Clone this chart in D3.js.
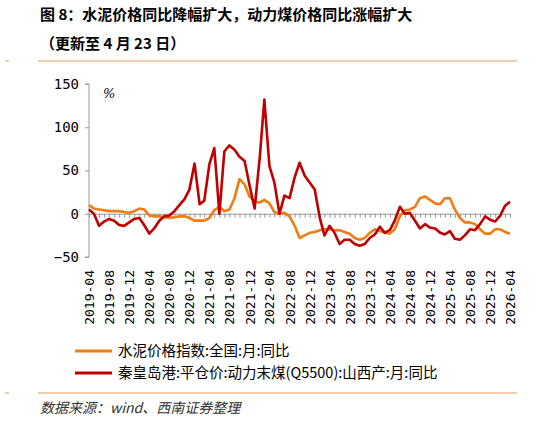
<!DOCTYPE html>
<html><head><meta charset="utf-8">
<script src="https://cdn.jsdelivr.net/npm/d3@7"></script>
<style>body{margin:0;background:#fff}svg{display:block}</style>
</head><body><svg id="c" width="542" height="424"></svg>
<script>
var startMonth = new Date(2019, 3, 1);
var cement = [10,6,5,4,3,3,3,2,1,3,6,5,-2,-3,-3,-4,-5,-4,-3,-3,-5,-8,-8,-8,-5,4,8,3,5,18,40,34,20,14,13,16,12,2,0,1,-3,-14,-28,-25,-22,-21,-19,-18,-18,-19,-19,-21,-23,-28,-30,-28,-22,-18,-20,-22,-23,-18,-3,4,5,8,18,20,16,12,11,18,18,5,-5,-10,-10,-12,-18,-23,-23,-18,-18,-21,-23];
var coal = [5,0,-14,-9,-6,-8,-13,-14,-10,-6,-5,-13,-23,-17,-8,-3,-2,3,10,17,28,58,11,15,57,76,0,72,79,74,66,61,33,6,65,132,55,36,0,21,18,42,59,44,36,28,-5,-25,-14,-22,-35,-30,-30,-35,-37,-35,-28,-24,-15,-22,-19,-8,8,0,1,-8,-17,-12,-16,-17,-22,-24,-20,-29,-30,-25,-18,-19,-12,-3,-7,-9,-2,9,14];
var yTicks = [-50, 0, 50, 100, 150];
var legendNames = ["水泥价格指数:全国:月:同比", "秦皇岛港:平仓价:动力末煤(Q5500):山西产:月:同比"];
var colors = ["#f07c12", "#c00000"];

var months = cement.map((d, i) => d3.timeMonth.offset(startMonth, i));
var svg = d3.select("#c");
var cjk = "'Noto Sans CJK SC', sans-serif";

svg.append("text").attr("x", 40).attr("y", 20).style("font-family", cjk).style("font-weight", "bold")
  .style("font-size", "15px").text("图 8：水泥价格同比降幅扩大，动力煤价格同比涨幅扩大");
svg.append("text").attr("x", 40).attr("y", 49).style("font-family", cjk).style("font-weight", "bold")
  .style("font-size", "15px").text("（更新至 4 月 23 日）");

[61, 393].forEach(y => {
  svg.append("line").attr("x1", 38).attr("x2", 517).attr("y1", y).attr("y2", y).attr("stroke", "#d9a05b").attr("stroke-width", 1);
  svg.append("line").attr("x1", 5).attr("x2", 9).attr("y1", y).attr("y2", y).attr("stroke", "#d9a05b").attr("stroke-width", 1);
});

var x = d3.scaleTime().domain([months[0], months[months.length - 1]]).range([89, 510]);
var y = d3.scaleLinear().domain([-50, 150]).range([257, 84]);

var yAxis = svg.append("g").attr("transform", "translate(89,0)")
  .call(d3.axisLeft(y).tickValues(yTicks).tickSize(4).tickPadding(6));
yAxis.select(".domain").attr("stroke", "#999").attr("d", "M-4," + y(150) + "H0V" + y(-50) + "H-4");
yAxis.selectAll(".tick line").attr("stroke", "#999");
yAxis.selectAll("text").style("font-family", "'DejaVu Sans Mono'").style("font-size", "14px").attr("fill", "#000");

var zeroAxis = svg.append("g").attr("transform", "translate(0," + y(0) + ")")
  .call(d3.axisBottom(x).tickValues(months).tickSize(4).tickFormat(""));
zeroAxis.selectAll("path,line").attr("stroke", "#999");

var labelMonths = months.filter((d, i) => i % 4 === 0);
svg.selectAll("text.xl").data(labelMonths).enter().append("text").attr("class", "xl")
  .attr("transform", d => "translate(" + (x(d) + 5) + ",270) rotate(-90)")
  .attr("text-anchor", "end").style("font-family", "'DejaVu Sans Mono'").style("font-size", "13px")
  .text(d3.timeFormat("%Y-%m"));

svg.append("text").attr("x", 103).attr("y", 98).style("font-family", "'DejaVu Serif'").style("font-style", "italic")
  .style("font-size", "13px").text("%");

var line = d3.line().x((d, i) => x(months[i])).y(d => y(d));
[cement, coal].forEach((s, k) => {
  svg.append("path").datum(s).attr("d", line).attr("fill", "none").attr("stroke", colors[k])
    .attr("stroke-width", 2.6).attr("stroke-linejoin", "round");
});

legendNames.forEach((n, k) => {
  var ly = 351 + k * 22;
  svg.append("line").attr("x1", 75).attr("x2", 112).attr("y1", ly).attr("y2", ly).attr("stroke", colors[k]).attr("stroke-width", 3);
  svg.append("text").attr("x", 118).attr("y", ly + 5).style("font-family", cjk).style("font-size", "14.5px").text(n);
});

svg.append("text").attr("x", 40).attr("y", 413).style("font-family", cjk).style("font-style", "italic")
  .style("font-size", "14px").attr("fill", "#333").text("数据来源：wind、西南证券整理");
</script></body></html>
